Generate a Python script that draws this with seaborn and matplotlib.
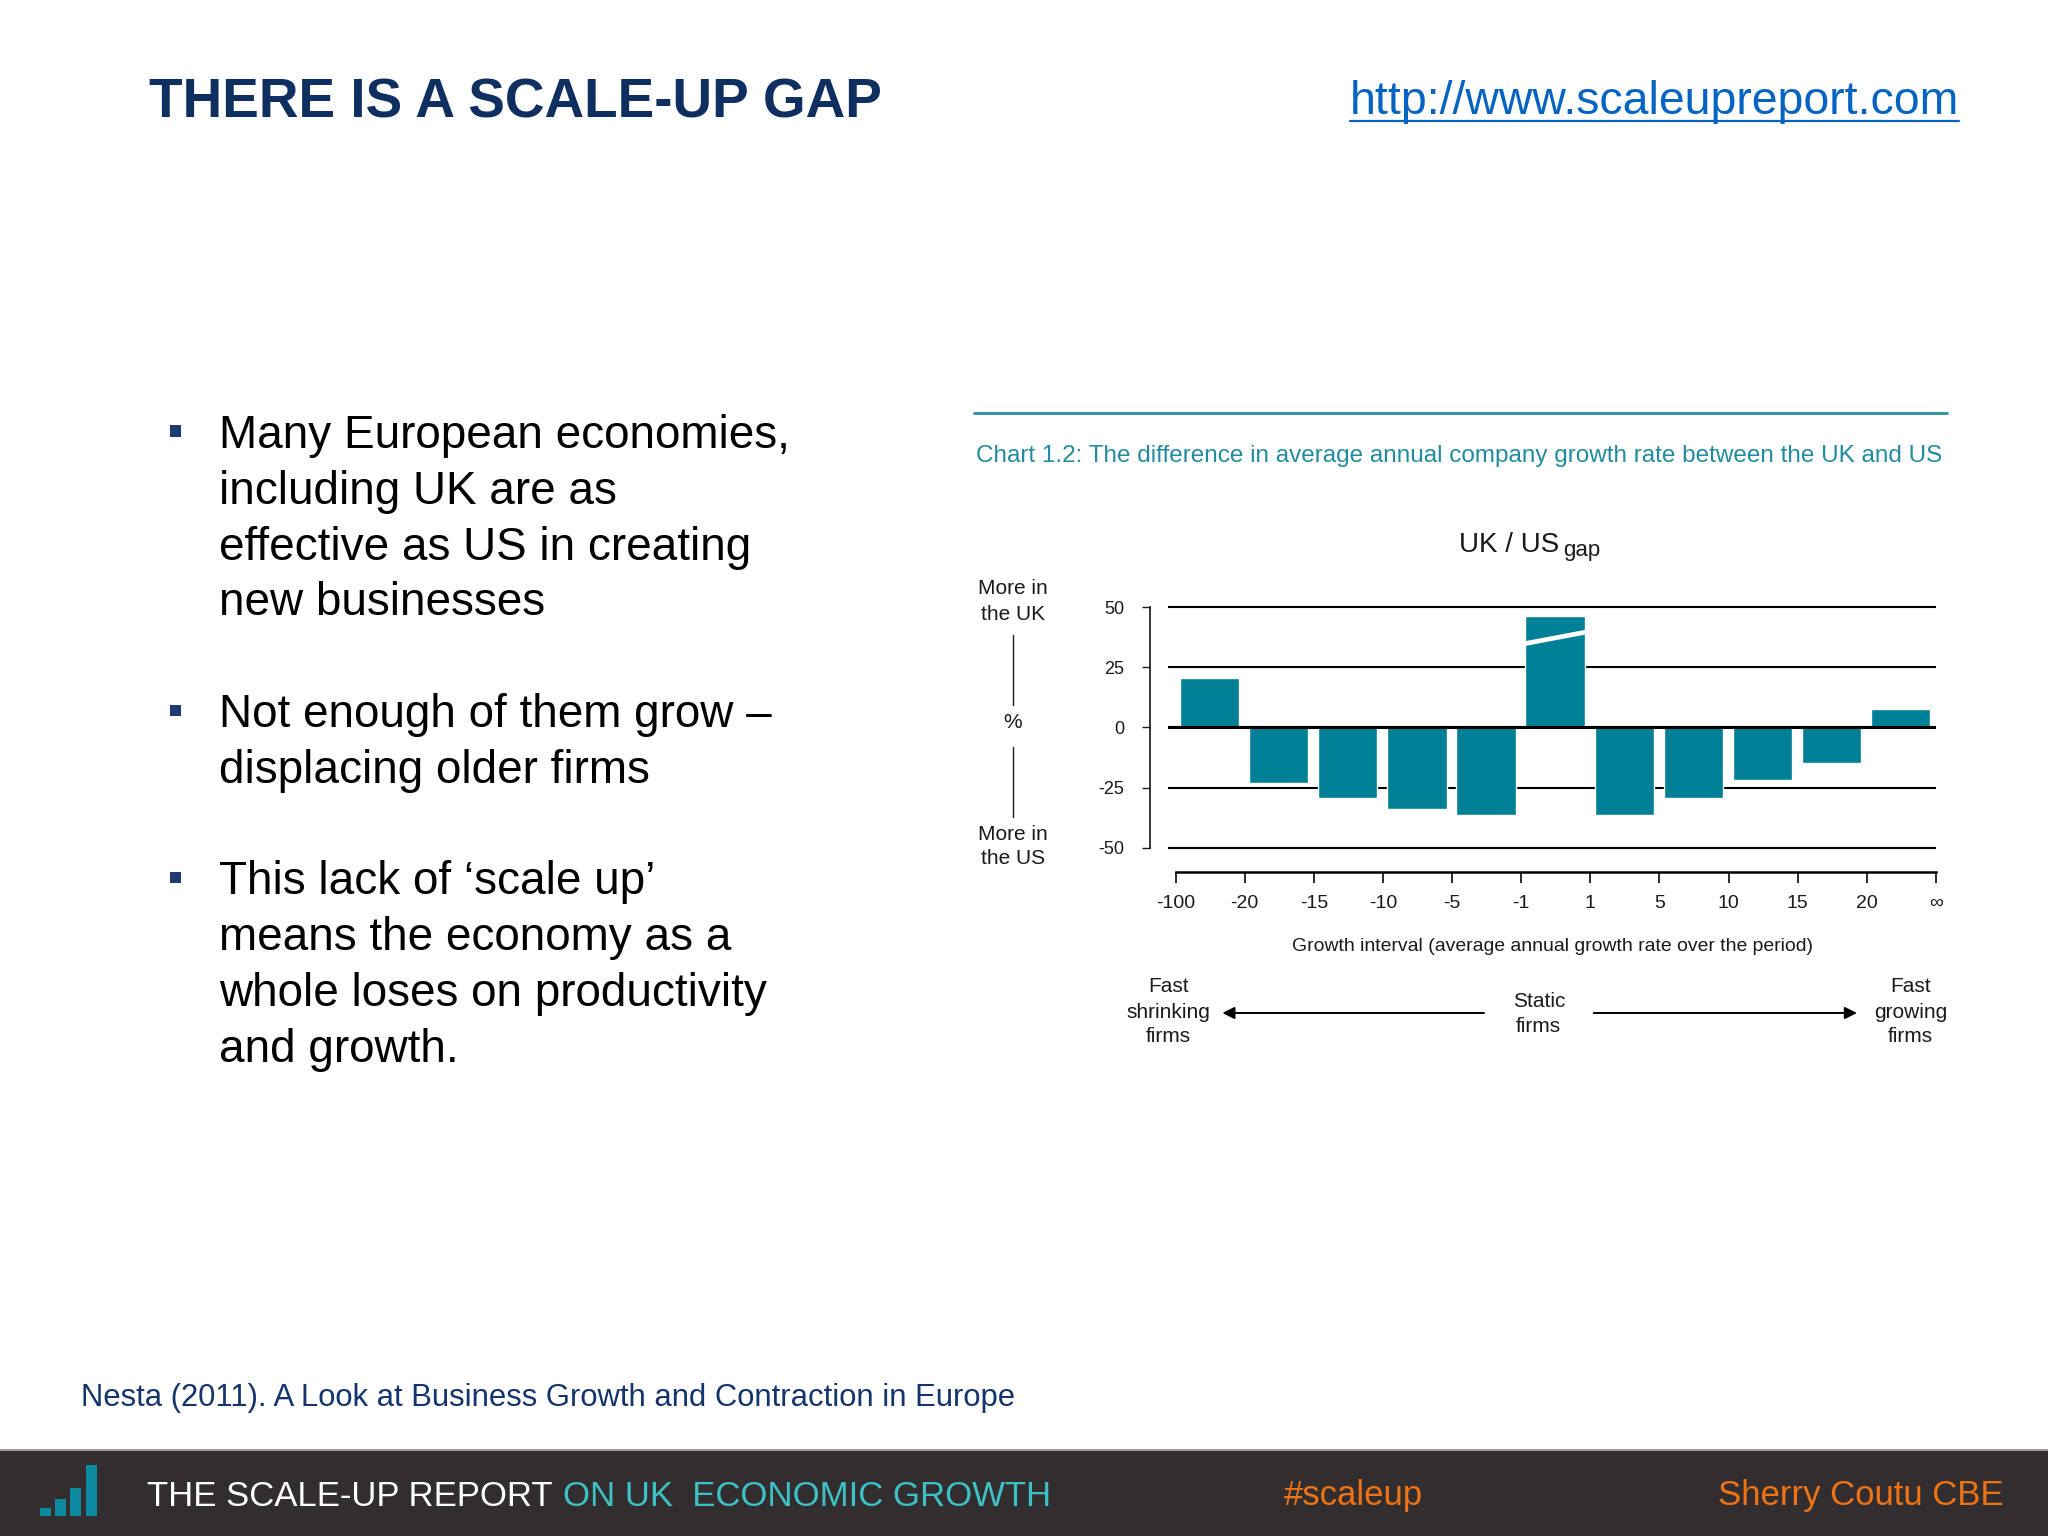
import numpy as np
import pandas as pd
import matplotlib.pyplot as plt
import seaborn as sns
from matplotlib.patches import Rectangle, FancyArrowPatch
from matplotlib.lines import Line2D

# UK minus US difference in average annual company growth rate (%), by growth interval
edges = ['-100', '-20', '-15', '-10', '-5', '-1', '1', '5', '10', '15', '20', '∞']
gap = [20.6, -23.2, -29.4, -34.0, -36.3, 46.2, -36.3, -29.4, -21.8, -14.7, 7.7]
yticks = [-50, -25, 0, 25, 50]

intervals = [f'{a} to {b}' for a, b in zip(edges[:-1], edges[1:])]
df = pd.DataFrame({'interval': intervals, 'gap': gap})

bullets = [
    ['Many European economies,', 'including UK are as', 'effective as US in creating', 'new businesses'],
    ['Not enough of them grow –', 'displacing older firms'],
    ['This lack of ‘scale up’', 'means the economy as a', 'whole loses on productivity', 'and growth.'],
]
bullet_tops = [431, 710.5, 877.6]

teal = '#008096'
navy = '#102f61'
ink = '#1a1a1a'

sns.set_theme(style='ticks')
plt.rcParams['font.family'] = ['Liberation Sans', 'DejaVu Sans']

W, H = 2048, 1536


def fx(x):
    return x / W


def fy(y):
    return 1 - y / H


fig = plt.figure(figsize=(20.48, 15.36), dpi=100, facecolor='white')
renderer = fig.canvas.get_renderer()


def fit_width(t, target):
    # scale a text so it spans the same width as in the slide
    w = t.get_window_extent(renderer).width
    t.set_fontsize(t.get_fontsize() * target / w)


# slide header
fig.text(fx(149), fy(117), 'THERE IS A SCALE-UP GAP', fontsize=39.5, fontweight='bold',
         color=navy, va='baseline')
url = fig.text(fx(1959), fy(114), 'http://www.scaleupreport.com', fontsize=33.4,
               color='#0563c1', ha='right', va='baseline')

# bullet points
for lines, top in zip(bullets, bullet_tops):
    fig.add_artist(Rectangle((fx(170), fy(top + 5.5)), 11 / W, 11 / H,
                             transform=fig.transFigure, color='#1f3b73', lw=0))
    for i, line in enumerate(lines):
        fig.text(fx(219), fy(top + 16.5 + i * 56), line, fontsize=33, color='black', va='baseline')

fig.text(fx(81), fy(1406), 'Nesta (2011). A Look at Business Growth and Contraction in Europe',
         fontsize=22.3, color='#15346b', va='baseline')

# chart header
fig.add_artist(Line2D([fx(974), fx(1947)], [fy(412.7)] * 2, color='#2a8ea0', lw=2))
ctitle = fig.text(fx(976), fy(462),
                  'Chart 1.2: The difference in average annual company growth rate between the UK and US',
                  fontsize=20, color='#228ba0', va='baseline')
fit_width(ctitle, 966)
fig.text(fx(1559), fy(552), 'UK / US', fontsize=20, color=ink, ha='right', va='baseline')
fig.text(fx(1563), fy(556), 'gap', fontsize=16, color=ink, ha='left', va='baseline')

# bar chart
ax = fig.add_axes([fx(1168), fy(871.7), 768 / W, 269.4 / H])
sns.barplot(data=df, x='interval', y='gap', color=teal, saturation=1, width=0.86, ax=ax, zorder=2)
ax.set_xlim(-0.6, 10.51)
ax.set_ylim(-60, 52)
ax.set_yticks(yticks)
ax.set_yticklabels([str(v) for v in yticks])
ax.set_xticks(np.arange(len(edges)) - 0.49)
ax.set_xticklabels(edges)
ax.yaxis.grid(True, color='black', lw=1.5)
ax.set_axisbelow(True)
ax.axhline(0, color='black', lw=2.2, zorder=3)
sns.despine(ax=ax)
ax.spines['left'].set_position(('outward', 13))
ax.spines['left'].set_bounds(-50, 50)
ax.spines['left'].set_linewidth(1.1)
ax.spines['left'].set_color('black')
ax.spines['bottom'].set_bounds(-0.49, 10.51)
ax.spines['bottom'].set_linewidth(1.8)
ax.spines['bottom'].set_color('black')
ax.tick_params(axis='y', length=5.8, width=1, pad=12.6, labelsize=13, colors=ink)
ax.tick_params(axis='x', length=8, width=1.3, pad=8.6, labelsize=14, colors=ink)
ax.set_ylabel('')
ax.set_xlabel('Growth interval (average annual growth rate over the period)', fontsize=15,
              labelpad=19, color=ink)
fit_width(ax.xaxis.label, 522)

# axis break on the tallest bar
tall = ax.patches[int(np.argmax(gap))]
h = tall.get_height()
ax.plot([tall.get_x() - 0.04, tall.get_x() + tall.get_width() + 0.04], [h * 0.75, h * 0.86],
        color='white', lw=3.4, solid_capstyle='butt', zorder=4)

# side annotations
side = dict(fontsize=15, color=ink, ha='center', va='center', linespacing=1.4)
fig.text(fx(1013), fy(601.5), 'More in\nthe UK', **side)
fig.text(fx(1013), fy(723), '%', **side)
fig.text(fx(1013), fy(846.5), 'More in\nthe US', **side)
fig.add_artist(Line2D([fx(1013)] * 2, [fy(635), fy(705)], color=ink, lw=1))
fig.add_artist(Line2D([fx(1013)] * 2, [fy(747), fy(817)], color=ink, lw=1))

fig.text(fx(1168.6), fy(1012), 'Fast\nshrinking\nfirms', **side)
fig.text(fx(1538.8), fy(1014), 'Static\nfirms', **side)
fig.text(fx(1910.7), fy(1012), 'Fast\ngrowing\nfirms', **side)
for x0, x1 in [(1486.7, 1219.6), (1591, 1859.7)]:
    fig.add_artist(FancyArrowPatch((fx(x0), fy(1013)), (fx(x1), fy(1013)), transform=fig.transFigure,
                                   arrowstyle='-|>', mutation_scale=18, lw=1.4, color='black'))

# footer band
fig.add_artist(Rectangle((0, 0), 1, 86 / H, transform=fig.transFigure, color='#322d2f', lw=0))
fig.add_artist(Line2D([0, 1], [fy(1450)] * 2, color='#9a9a9a', lw=1.5))
for x0, x1, top in [(40, 51, 1508), (55, 66, 1499), (70, 81, 1488), (86, 97, 1465)]:
    fig.add_artist(Rectangle((fx(x0), fy(1516)), (x1 - x0) / W, (1516 - top) / H,
                             transform=fig.transFigure, color='#0e8aa0', lw=0))
fig.text(fx(147), fy(1505.5), 'THE SCALE-UP REPORT', fontsize=25, color='white', va='baseline')
fig.text(fx(563), fy(1505.5), 'ON UK  ECONOMIC GROWTH', fontsize=25, color='#3ec1c4', va='baseline')
fig.text(fx(1284), fy(1505.5), '#scaleup', fontsize=25, color='#ee7314', va='baseline')
fig.text(fx(2003), fy(1505.5), 'Sherry Coutu CBE', fontsize=25, color='#ee7314', ha='right', va='baseline')

# underline the url
bb = url.get_window_extent(renderer)
fig.add_artist(Line2D([bb.x0 / W, bb.x1 / W], [fy(121)] * 2, color='#0563c1', lw=1.6))

fig.savefig('out.png', dpi=100, facecolor='white')
